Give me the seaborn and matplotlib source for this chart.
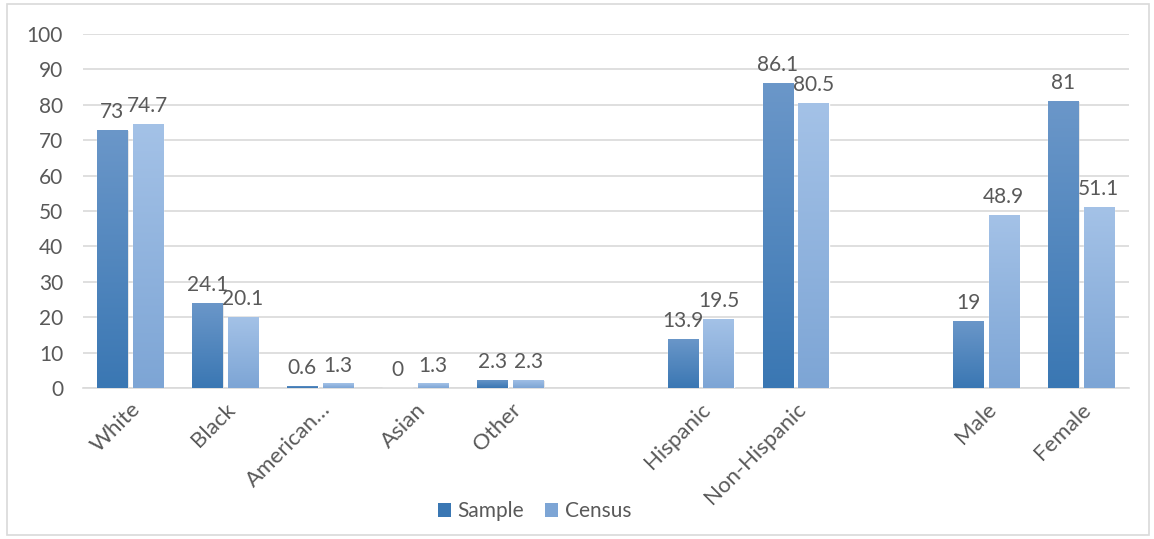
import numpy as np
import pandas as pd
import matplotlib
matplotlib.use("Agg")
import matplotlib.pyplot as plt
from matplotlib.colors import LinearSegmentedColormap
from matplotlib.patches import Rectangle, Patch
import seaborn as sns

# Chart values (blank slots separate the three groups)
categories = ["White", "Black", "American\u2026", "Asian", "Other", " ",
              "Hispanic", "Non-Hispanic", "  ", "Male", "Female"]
sample = [73, 24.1, 0.6, 0, 2.3, np.nan, 13.9, 86.1, np.nan, 19, 81]
census = [74.7, 20.1, 1.3, 1.3, 2.3, np.nan, 19.5, 80.5, np.nan, 48.9, 51.1]
series = ["Sample", "Census"]
yticks = list(range(0, 101, 10))

# gradient colours (top, bottom) per series
grad = {"Sample": ("#6B97C9", "#3A77B3"), "Census": ("#A4C2E7", "#7DA5D5")}
TEXT = "#595959"

df = pd.DataFrame({"category": categories * 2,
                   "series": [series[0]] * len(categories) + [series[1]] * len(categories),
                   "value": sample + census})
values = {"Sample": sample, "Census": census}

sns.set_style("white")
plt.rcParams["font.family"] = ["Lato", "DejaVu Sans"]

fig = plt.figure(figsize=(11.54, 5.39), dpi=100)
ax = fig.add_axes([0.0715, 0.280, 0.9065, 0.657])

sns.barplot(data=df, x="category", y="value", hue="series", order=categories,
            hue_order=series, palette=[grad[s][1] for s in series],
            width=0.75, gap=0.15, ax=ax, legend=False, zorder=3)

# gradient fills + value labels
for s, container in zip(series, ax.containers):
    cmap = LinearSegmentedColormap.from_list(s, [grad[s][1], grad[s][0]])
    for bar in container.patches:
        x0, w, h = bar.get_x(), bar.get_width(), bar.get_height()
        idx = int(round(x0 + w / 2))
        val = values[s][idx]
        if np.isnan(val):
            continue
        shadow = Rectangle((x0 + 0.012, -0.4), w, val + 0.1, facecolor="#BFBFBF",
                           alpha=0.45, edgecolor="none", zorder=2)
        ax.add_patch(shadow)
        if val > 0:
            bar.set_facecolor("none")
            im = ax.imshow(np.linspace(0, 1, 256).reshape(-1, 1), cmap=cmap,
                           origin="lower", aspect="auto", zorder=3,
                           extent=(x0, x0 + w, 0, val))
            im.set_clip_path(bar)
        ax.text(x0 + w / 2, val + 2.2, f"{val:g}", ha="center", va="bottom",
                fontsize=15, color=TEXT, zorder=5)

ax.set_xlim(-0.5, len(categories) - 0.5)
ax.set_ylim(0, 100)
ax.set_yticks(yticks)
ax.yaxis.grid(True, color="#D9D9D9", linewidth=1.2, zorder=0)
ax.set_axisbelow(True)
for side in ["top", "right", "left"]:
    ax.spines[side].set_visible(False)
ax.spines["bottom"].set_color("#D9D9D9")
ax.spines["bottom"].set_linewidth(1.2)
ax.tick_params(axis="both", length=0, labelsize=15, labelcolor=TEXT)
ax.tick_params(axis="y", pad=14)
ax.set_xticks(range(len(categories)))
ax.set_xticklabels(categories, rotation=45, ha="right", rotation_mode="anchor")
ax.tick_params(axis="x", pad=8, labelsize=16)
ax.set_xlabel("")
ax.set_ylabel("")

handles = [Patch(facecolor=grad[s][1], edgecolor="none") for s in series]
fig.legend(handles, series, loc="center", bbox_to_anchor=(0.463, 0.052), ncol=2,
           frameon=False, fontsize=15, labelcolor=TEXT, handlelength=0.65,
           handleheight=0.65, handletextpad=0.3, columnspacing=1.0)

# outer chart frame
fig.patches.append(Rectangle((0.006, 0.008), 0.99, 0.984, transform=fig.transFigure,
                             fill=False, edgecolor="#D9D9D9", linewidth=1.2))

fig.savefig("out.png", dpi=100)
